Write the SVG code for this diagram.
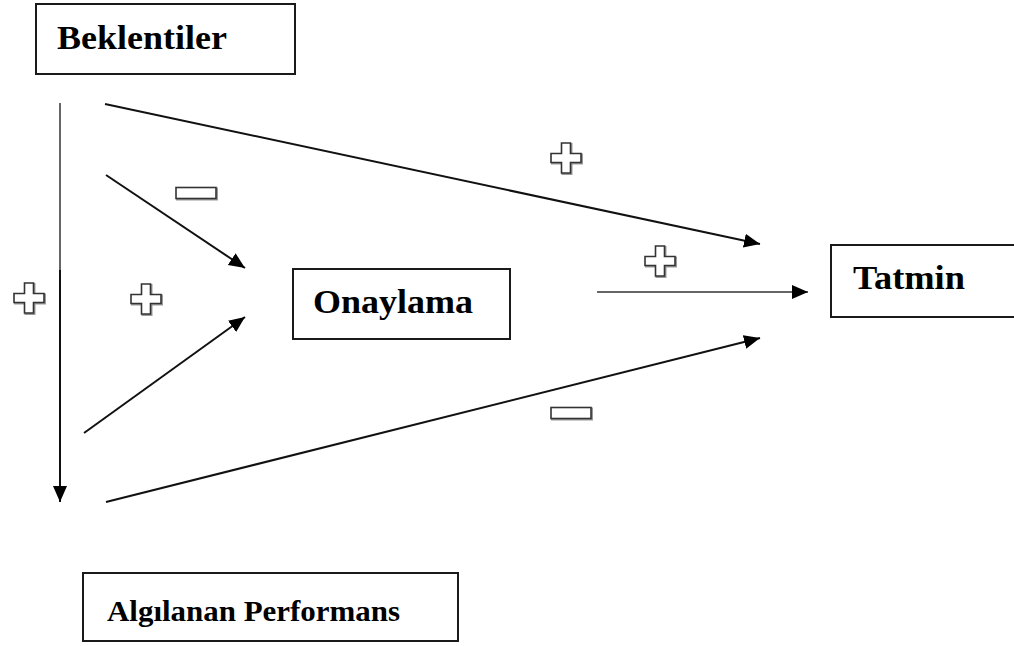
<svg xmlns="http://www.w3.org/2000/svg" width="1014" height="646" viewBox="0 0 1014 646">
  <style>
    .box { fill: #ffffff; stroke: #1a1a1a; stroke-width: 2; }
    .label { font-family: "Liberation Serif", "Times New Roman", serif; font-weight: bold; fill: #000000; }
    .conn { fill: none; stroke: #111111; stroke-width: 2; }
    .conn-grey { fill: none; stroke: #666666; stroke-width: 2; }
    .sign { fill: #ffffff; stroke: #333333; stroke-width: 1.6; }
    .sign-shade { fill: none; stroke: #9a9a9a; stroke-width: 2; }
  </style>
  <defs>
    <marker id="head" markerUnits="userSpaceOnUse" markerWidth="17" markerHeight="15" refX="16" refY="7" orient="auto">
      <path d="M0,0 L16,7 L0,14 z" fill="#000000"/>
    </marker>
    <!-- outlined plus sign centred on 0,0 -->
    <path id="plus" d="M-4.5,-15 H4.5 V-4.5 H15 V4.5 H4.5 V15 H-4.5 V4.5 H-15 V-4.5 H-4.5 Z"/>
    <!-- outlined minus sign centred on 0,0 -->
    <rect id="minus" x="-20" y="-5.5" width="40" height="11"/>
  </defs>

  <rect width="1014" height="646" fill="#ffffff"/>

  <!-- nodes -->
  <g id="beklentiler">
    <rect class="box" x="36" y="4" width="259" height="70"/>
    <text class="label" x="57" y="49" font-size="34" textLength="170" lengthAdjust="spacingAndGlyphs">Beklentiler</text>
  </g>
  <g id="onaylama">
    <rect class="box" x="293" y="269" width="217" height="70"/>
    <text class="label" x="313" y="313" font-size="34" textLength="160" lengthAdjust="spacingAndGlyphs">Onaylama</text>
  </g>
  <g id="tatmin">
    <rect class="box" x="831" y="245" width="200" height="72"/>
    <text class="label" x="853" y="289" font-size="34" textLength="112" lengthAdjust="spacingAndGlyphs">Tatmin</text>
  </g>
  <g id="algilanan-performans">
    <rect class="box" x="83" y="573" width="375" height="68"/>
    <text class="label" x="107" y="621" font-size="30" textLength="293" lengthAdjust="spacingAndGlyphs">Algılanan Performans</text>
  </g>

  <!-- connectors -->
  <g id="connectors">
    <line class="conn-grey" x1="60" y1="103" x2="60" y2="272"/>
    <line class="conn" x1="60" y1="270" x2="60" y2="502" marker-end="url(#head)"/>
    <line class="conn" x1="105" y1="104" x2="760" y2="244" marker-end="url(#head)"/>
    <line class="conn" x1="106" y1="175" x2="245" y2="268" marker-end="url(#head)"/>
    <line class="conn" x1="84" y1="433" x2="245" y2="317" marker-end="url(#head)"/>
    <line class="conn" x1="106" y1="502" x2="760" y2="338" marker-end="url(#head)"/>
    <line class="conn-grey" x1="597" y1="292" x2="808" y2="292" marker-end="url(#head)"/>
  </g>

  <!-- signs -->
  <g id="signs">
    <g transform="translate(29,298)"><use href="#plus" class="sign-shade" transform="translate(1,1)"/><use href="#plus" class="sign"/></g>
    <g transform="translate(146,299)"><use href="#plus" class="sign-shade" transform="translate(1,1)"/><use href="#plus" class="sign"/></g>
    <g transform="translate(566,158)"><use href="#plus" class="sign-shade" transform="translate(1,1)"/><use href="#plus" class="sign"/></g>
    <g transform="translate(660,261)"><use href="#plus" class="sign-shade" transform="translate(1,1)"/><use href="#plus" class="sign"/></g>
    <g transform="translate(196,193)"><use href="#minus" class="sign-shade" transform="translate(1,1)"/><use href="#minus" class="sign"/></g>
    <g transform="translate(571,413)"><use href="#minus" class="sign-shade" transform="translate(1,1)"/><use href="#minus" class="sign"/></g>
  </g>
</svg>
